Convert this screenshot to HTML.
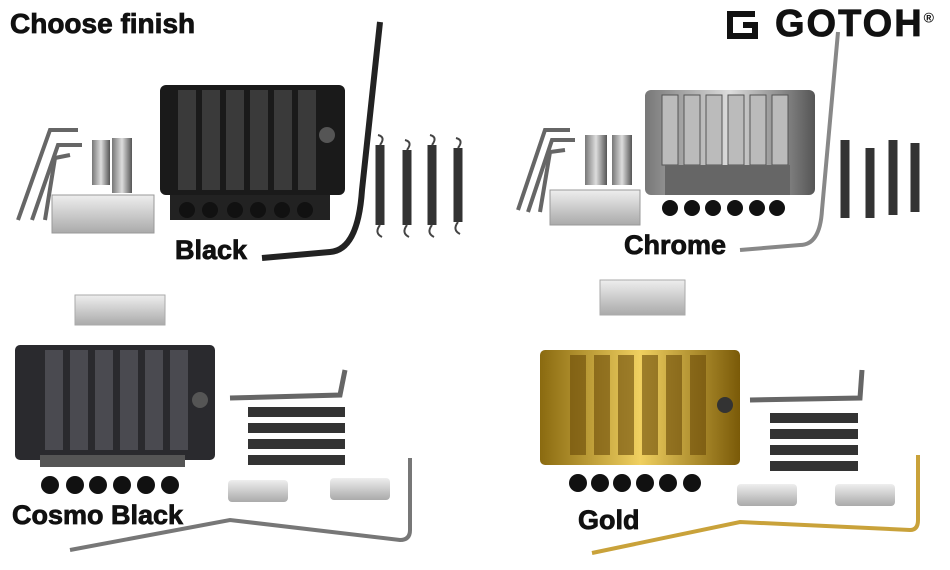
<!DOCTYPE html>
<html><head><style>
body{margin:0;width:950px;height:570px;background:#fff;overflow:hidden;position:relative;font-family:"Liberation Sans",sans-serif}
.t{position:absolute;font-weight:bold;color:#111;white-space:nowrap;-webkit-text-stroke:0.8px #111}
</style></head><body>
<svg width="950" height="570" style="position:absolute;left:0;top:0">
<defs>
<linearGradient id="ch" x1="0" x2="1"><stop offset="0" stop-color="#777"/><stop offset=".5" stop-color="#ddd"/><stop offset="1" stop-color="#555"/></linearGradient>
<linearGradient id="gd" x1="0" x2="1"><stop offset="0" stop-color="#8a6a10"/><stop offset=".5" stop-color="#f0d060"/><stop offset="1" stop-color="#7a5a08"/></linearGradient>
<linearGradient id="sv" x1="0" y1="0" x2="0" y2="1"><stop offset="0" stop-color="#eee"/><stop offset="1" stop-color="#aaa"/></linearGradient>
</defs>
<!-- Black -->
<rect x="160" y="85" width="185" height="110" rx="6" fill="#1a1a1a"/>
<g fill="#3a3a3a"><rect x="178" y="90" width="18" height="100"/><rect x="202" y="90" width="18" height="100"/><rect x="226" y="90" width="18" height="100"/><rect x="250" y="90" width="18" height="100"/><rect x="274" y="90" width="18" height="100"/><rect x="298" y="90" width="18" height="100"/></g>
<circle cx="327" cy="135" r="8" fill="#555"/>
<rect x="170" y="195" width="160" height="25" fill="#222"/>
<g fill="#111"><circle cx="187" cy="210" r="8"/><circle cx="210" cy="210" r="8"/><circle cx="235" cy="210" r="8"/><circle cx="258" cy="210" r="8"/><circle cx="282" cy="210" r="8"/><circle cx="305" cy="210" r="8"/></g>
<path d="M380 22 L362 190 Q358 250 330 252 L262 258" stroke="#222" stroke-width="6" fill="none"/>
<g stroke="#333" stroke-width="9"><line x1="380" y1="145" x2="380" y2="225"/><line x1="407" y1="150" x2="407" y2="225"/><line x1="432" y1="145" x2="432" y2="225"/><line x1="458" y1="148" x2="458" y2="222"/></g>
<g stroke="#444" stroke-width="2" fill="none"><path d="M380 225 q-6 8 2 12"/><path d="M407 225 q-6 8 2 12"/><path d="M432 225 q-6 8 2 12"/><path d="M458 222 q-6 8 2 12"/><path d="M380 145 q6 -8 -2 -10"/><path d="M407 150 q6 -8 -2 -10"/><path d="M432 145 q6 -8 -2 -10"/><path d="M458 148 q6 -8 -2 -10"/></g>
<rect x="52" y="195" width="102" height="38" fill="url(#sv)" stroke="#999"/>
<g stroke="#666" stroke-width="4" fill="none"><path d="M78 130 L50 130 L18 220"/><path d="M82 145 L58 145 L32 220"/><path d="M70 155 L55 158 L45 220"/></g>
<rect x="92" y="140" width="18" height="45" fill="url(#ch)"/><rect x="112" y="138" width="20" height="55" fill="url(#ch)"/>
<!-- Chrome -->
<rect x="645" y="90" width="170" height="105" rx="6" fill="url(#ch)"/>
<g fill="#bbb" stroke="#555"><rect x="662" y="95" width="16" height="70"/><rect x="684" y="95" width="16" height="70"/><rect x="706" y="95" width="16" height="70"/><rect x="728" y="95" width="16" height="70"/><rect x="750" y="95" width="16" height="70"/><rect x="772" y="95" width="16" height="70"/></g>
<rect x="665" y="165" width="125" height="30" fill="#666"/>
<g fill="#111"><circle cx="670" cy="208" r="8"/><circle cx="692" cy="208" r="8"/><circle cx="713" cy="208" r="8"/><circle cx="735" cy="208" r="8"/><circle cx="757" cy="208" r="8"/><circle cx="777" cy="208" r="8"/></g>
<path d="M838 32 L822 210 Q820 245 800 245 L740 250" stroke="#888" stroke-width="4" fill="none"/>
<g stroke="#333" stroke-width="9"><line x1="845" y1="140" x2="845" y2="218"/><line x1="870" y1="148" x2="870" y2="218"/><line x1="893" y1="140" x2="893" y2="215"/><line x1="915" y1="143" x2="915" y2="212"/></g>
<rect x="550" y="190" width="90" height="35" fill="url(#sv)" stroke="#999"/>
<g stroke="#666" stroke-width="4" fill="none"><path d="M570 130 L545 130 L518 210"/><path d="M575 140 L552 140 L528 212"/><path d="M565 150 L550 152 L540 212"/></g>
<rect x="585" y="135" width="22" height="50" fill="url(#ch)"/><rect x="612" y="135" width="20" height="50" fill="url(#ch)"/>
<!-- Cosmo black -->
<rect x="75" y="295" width="90" height="30" fill="url(#sv)" stroke="#aaa"/>
<rect x="15" y="345" width="200" height="115" rx="5" fill="#2a2a2e"/>
<g fill="#4a4a50"><rect x="45" y="350" width="18" height="100"/><rect x="70" y="350" width="18" height="100"/><rect x="95" y="350" width="18" height="100"/><rect x="120" y="350" width="18" height="100"/><rect x="145" y="350" width="18" height="100"/><rect x="170" y="350" width="18" height="100"/></g>
<circle cx="200" cy="400" r="8" fill="#555"/>
<rect x="40" y="455" width="145" height="12" fill="#555"/>
<g fill="#111"><circle cx="50" cy="485" r="9"/><circle cx="75" cy="485" r="9"/><circle cx="98" cy="485" r="9"/><circle cx="122" cy="485" r="9"/><circle cx="146" cy="485" r="9"/><circle cx="170" cy="485" r="9"/></g>
<path d="M70 550 L230 520 L400 540 Q410 540 410 530 L410 458" stroke="#777" stroke-width="4" fill="none"/>
<g stroke="#333" stroke-width="10"><line x1="248" y1="412" x2="345" y2="412"/><line x1="248" y1="428" x2="345" y2="428"/><line x1="248" y1="444" x2="345" y2="444"/><line x1="248" y1="460" x2="345" y2="460"/></g>
<path d="M230 398 L340 395 L345 370" stroke="#666" stroke-width="5" fill="none"/>
<rect x="228" y="480" width="60" height="22" rx="4" fill="url(#sv)"/><rect x="330" y="478" width="60" height="22" rx="4" fill="url(#sv)"/>
<!-- Gold -->
<rect x="600" y="280" width="85" height="35" fill="url(#sv)" stroke="#aaa"/>
<rect x="540" y="350" width="200" height="115" rx="5" fill="url(#gd)"/>
<g fill="#6a4a08" opacity=".6"><rect x="570" y="355" width="16" height="100"/><rect x="594" y="355" width="16" height="100"/><rect x="618" y="355" width="16" height="100"/><rect x="642" y="355" width="16" height="100"/><rect x="666" y="355" width="16" height="100"/><rect x="690" y="355" width="16" height="100"/></g>
<circle cx="725" cy="405" r="8" fill="#333"/>
<g fill="#111"><circle cx="578" cy="483" r="9"/><circle cx="600" cy="483" r="9"/><circle cx="622" cy="483" r="9"/><circle cx="645" cy="483" r="9"/><circle cx="668" cy="483" r="9"/><circle cx="692" cy="483" r="9"/></g>
<path d="M592 553 L740 522 L910 530 Q918 530 918 520 L918 455" stroke="#c9a23a" stroke-width="4" fill="none"/>
<g stroke="#333" stroke-width="10"><line x1="770" y1="418" x2="858" y2="418"/><line x1="770" y1="434" x2="858" y2="434"/><line x1="770" y1="450" x2="858" y2="450"/><line x1="770" y1="466" x2="858" y2="466"/></g>
<path d="M750 400 L860 398 L862 370" stroke="#666" stroke-width="5" fill="none"/>
<rect x="737" y="484" width="60" height="22" rx="4" fill="url(#sv)"/><rect x="835" y="484" width="60" height="22" rx="4" fill="url(#sv)"/>
<!-- logo icon -->
<path d="M755 14 H730 V36 H755 V25 H743" stroke="#111" stroke-width="6" fill="none"/>
</svg>
<div class="t" style="left:10px;top:8px;font-size:28px">Choose finish</div>
<div class="t" style="left:775px;top:3px;font-size:38px;letter-spacing:2px">GOTOH<sup style="font-size:14px;-webkit-text-stroke:0">®</sup></div>
<div class="t" style="left:175px;top:235px;font-size:27px">Black</div>
<div class="t" style="left:624px;top:230px;font-size:27px">Chrome</div>
<div class="t" style="left:12px;top:500px;font-size:27px">Cosmo Black</div>
<div class="t" style="left:578px;top:505px;font-size:27px">Gold</div>
</body></html>
